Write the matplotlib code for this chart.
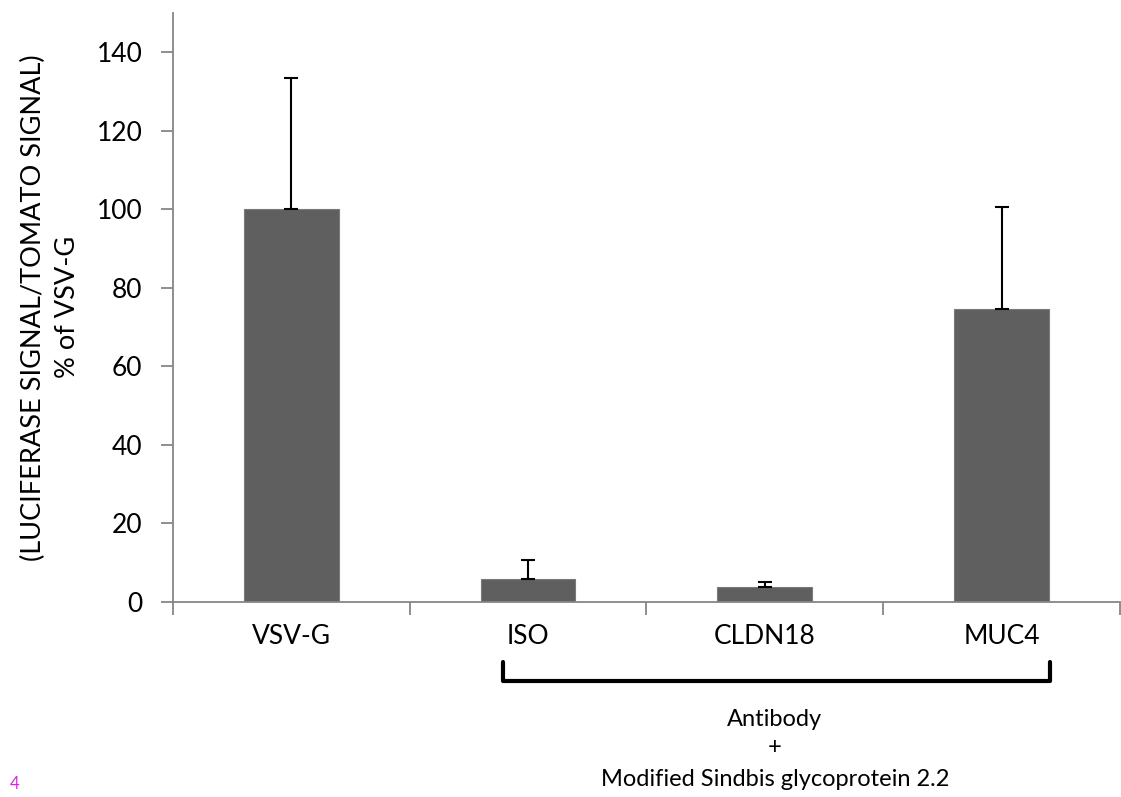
import numpy as np
import matplotlib.pyplot as plt

plt.rcParams['font.family'] = ['Lato', 'DejaVu Sans']

# data
categories = ['VSV-G', 'ISO', 'CLDN18', 'MUC4']
values = [100, 5.8, 3.7, 74.5]
err_up = [33.5, 5.0, 1.3, 26.0]

fig = plt.figure(figsize=(11.21, 7.97), dpi=100)
ax = fig.add_axes([0.1543, 0.2447, 0.8447, 0.7393])

x = np.arange(len(categories))
ax.bar(x, values, width=0.4, color='#5f5f5f', edgecolor='#7a7a7a', linewidth=0.8, zorder=2)
ax.errorbar(x, values, yerr=[np.zeros(len(values)), err_up], fmt='none',
            ecolor='black', elinewidth=1.5, capsize=5, capthick=1.5, zorder=3)

ax.set_xlim(-0.5, 3.5)
ax.set_ylim(0, 150)
ax.set_yticks(np.arange(0, 141, 20))
ax.set_xticks(x)
ax.set_xticklabels(categories, fontsize=19)
ax.set_xticks(np.arange(-0.5, 3.6, 1), minor=True)
ax.tick_params(axis='x', which='major', length=0, pad=16)
ax.tick_params(axis='x', which='minor', length=9, width=1.3, color='#868686', direction='out')
ax.tick_params(axis='y', length=9, width=1.3, color='#868686', labelsize=19, pad=13)

for side in ['top', 'right']:
    ax.spines[side].set_visible(False)
for side in ['left', 'bottom']:
    ax.spines[side].set_color('#868686')
    ax.spines[side].set_linewidth(1.3)

ax.set_ylabel('(LUCIFERASE SIGNAL/TOMATO SIGNAL)\n% of VSV-G', fontsize=19.5,
              linespacing=1.45)
ax.yaxis.set_label_coords(-0.098, 0.5)

# bracket grouping the antibody conditions
bx = [0.894, 0.894, 3.205, 3.205]
by = [-15.2, -20.2, -20.2, -15.2]
ax.plot(bx, by, color='black', lw=3, clip_on=False, solid_joinstyle='round',
        solid_capstyle='round')

fig.text(0.6913, 1 - 719 / 797, 'Antibody', ha='center', va='center', fontsize=17)
fig.text(0.6913, 1 - 748 / 797, '+', ha='center', va='center', fontsize=17)
fig.text(0.6913, 1 - 780 / 797, 'Modified Sindbis glycoprotein 2.2', ha='center',
         va='center', fontsize=17)
fig.text(0.009, 1 - 784 / 797, '4', color='#e020e0', ha='left', va='center', fontsize=12)

fig.savefig('out.png', dpi=100)
